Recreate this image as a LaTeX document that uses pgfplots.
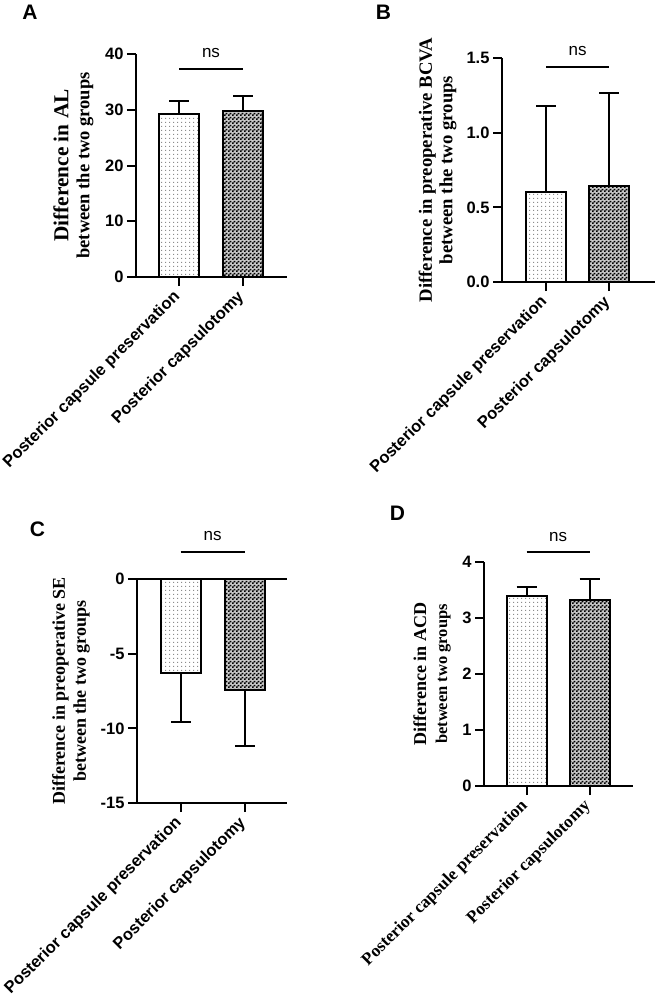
\documentclass[border=0pt]{standalone}
\usepackage{fontspec}
\usepackage{pgfplots}
\pgfplotsset{compat=1.18}
\usetikzlibrary{patterns}
\setmainfont{Liberation Sans}
\newfontfamily\arial{Liberation Sans}
\newfontfamily\tnr{Liberation Serif}

\pgfdeclarepatternformonly{gpdots}{\pgfpointorigin}{\pgfpoint{4pt}{4pt}}{\pgfpoint{4pt}{4pt}}{%
  \pgfpathrectangle{\pgfpoint{1.5pt}{1.5pt}}{\pgfpoint{1.1pt}{1.1pt}}\pgfusepath{fill}}
\pgfdeclarepatternformonly{gpchecker}{\pgfpointorigin}{\pgfpoint{4pt}{4pt}}{\pgfpoint{4pt}{4pt}}{%
  \pgfpathrectangle{\pgfpointorigin}{\pgfpoint{2pt}{2pt}}%
  \pgfpathrectangle{\pgfpoint{2pt}{2pt}}{\pgfpoint{2pt}{2pt}}\pgfusepath{fill}}

\pgfplotsset{
  gp/.style={
    scale only axis, clip=false,
    axis x line*=bottom, axis y line*=left,
    axis line style={line width=2pt, -},
    every tick/.style={line width=2pt, black},
    tick align=outside, major tick length=9pt,
    xtick={0,1},
    xticklabels={Posterior capsule preservation, Posterior capsulotomy},
    xticklabel shift=7pt,
    xticklabel style={rotate=45, anchor=east, font=\arial\bfseries\fontsize{16.5}{18}\selectfont, inner sep=2pt},
    yticklabel style={font=\arial\bfseries\fontsize{16.5}{18}\selectfont},
    /pgf/number format/assume math mode=true,
    ylabel style={at={(rel axis cs:0,0.5)}, anchor=center, align=center},
  },
  bar1/.style={ybar, bar shift=0pt, bar width=40pt, draw=black, line width=2pt,
    pattern=gpdots, pattern color=black!45,
    error bars/y explicit,
    error bars/error mark=-,
    error bars/error bar style={line width=2pt, black, solid},
    error bars/error mark options={rotate=90, line width=2pt, black, mark size=10pt}},
  bar2/.style={ybar, bar shift=0pt, bar width=40pt, draw=black, line width=2pt,
    fill=black!22, postaction={pattern=gpchecker, pattern color=black},
    error bars/y explicit,
    error bars/error mark=-,
    error bars/error bar style={line width=2pt, black, solid},
    error bars/error mark options={rotate=90, line width=2pt, black, mark size=10pt}},
}

\begin{document}
\begin{tikzpicture}
\useasboundingbox (0,0) rectangle (655pt,-1004pt);

% ---------- A ----------
\node[font=\arial\bfseries\fontsize{21}{21}\selectfont] at (30pt,-12.5pt) {A};
\begin{axis}[gp,
  at={(136pt,-277pt)}, anchor=south west,
  width=151pt, height=223pt,
  xmin=-0.672, xmax=1.6875, ymin=0, ymax=40,
  ytick={0,10,20,30,40},
  ylabel style={yshift=62.5pt, font=\tnr\bfseries\fontsize{18.5}{21}\selectfont},
  ylabel={{\fontsize{21.3}{21}\selectfont Difference in AL}\\between the two groups},
]
\addplot[bar1, error bars/y dir=plus] coordinates {(0,29.2) +- (0,2.4)};
\addplot[bar2, error bars/y dir=plus] coordinates {(1,29.8) +- (0,2.7)};
\draw[line width=2pt] (axis cs:0,37.3) -- (axis cs:1,37.3);
\node[anchor=base, font=\arial\fontsize{17}{17}\selectfont, yshift=11.5pt] at (axis cs:0.5,37.3) {ns};
\end{axis}

% ---------- B ----------
\node[font=\arial\bfseries\fontsize{21}{21}\selectfont] at (383.5pt,-12.5pt) {B};
\begin{axis}[gp,
  at={(502pt,-282pt)}, anchor=south west,
  width=153pt, height=224pt,
  xmin=-0.70, xmax=1.73, ymin=0, ymax=1.5,
  ytick={0,0.5,1,1.5},
  yticklabel style={/pgf/number format/.cd, fixed, fixed zerofill, precision=1},
  ylabel style={yshift=64.5pt, font=\tnr\bfseries\fontsize{18.7}{20.5}\selectfont},
  ylabel={Difference in preoperative BCVA\\between the two groups},
]
\addplot[bar1, error bars/y dir=plus] coordinates {(0,0.60) +- (0,0.58)};
\addplot[bar2, error bars/y dir=plus] coordinates {(1,0.645) +- (0,0.62)};
\draw[line width=2pt] (axis cs:0,1.44) -- (axis cs:1,1.44);
\node[anchor=base, font=\arial\fontsize{17}{17}\selectfont, yshift=11.5pt] at (axis cs:0.5,1.44) {ns};
\end{axis}

% ---------- C ----------
\node[font=\arial\bfseries\fontsize{21}{21}\selectfont] at (37.5pt,-529.5pt) {C};
\begin{axis}[gp,
  at={(137pt,-803pt)}, anchor=south west,
  width=150pt, height=224pt,
  xmin=-0.68, xmax=1.66, ymin=-15, ymax=0,
  ytick={-15,-10,-5,0},
  ylabel style={yshift=66pt, font=\tnr\bfseries\fontsize{18}{21}\selectfont},
  ylabel={Difference in preoperative SE\\between the two groups},
]
\addplot[bar1, error bars/y dir=minus] coordinates {(0,-6.3) +- (0,3.3)};
\addplot[bar2, error bars/y dir=minus] coordinates {(1,-7.45) +- (0,3.75)};
\draw[line width=2pt] (axis cs:-0.68,0) -- (axis cs:1.66,0);
\draw[line width=2pt] (axis cs:0,1.81) -- (axis cs:1,1.81);
\node[anchor=base, font=\arial\fontsize{17}{17}\selectfont, yshift=11.5pt] at (axis cs:0.5,1.81) {ns};
\end{axis}

% ---------- D ----------
\node[font=\arial\bfseries\fontsize{21}{21}\selectfont] at (397.5pt,-513.5pt) {D};
\begin{axis}[gp,
  at={(484pt,-786pt)}, anchor=south west,
  width=149pt, height=224pt,
  xmin=-0.675, xmax=1.69, ymin=0, ymax=4,
  ytick={0,1,2,3,4},
  xticklabel style={font=\tnr\bfseries\fontsize{17.4}{18}\selectfont},
  ylabel style={yshift=52pt, font=\tnr\bfseries\fontsize{16.5}{21}\selectfont},
  ylabel={{\fontsize{18.1}{21}\selectfont Difference in ACD}\\between two groups},
]
\addplot[bar1, error bars/y dir=plus] coordinates {(0,3.40) +- (0,0.15)};
\addplot[bar2, error bars/y dir=plus] coordinates {(1,3.32) +- (0,0.38)};
\draw[line width=2pt] (axis cs:0,4.18) -- (axis cs:1,4.18);
\node[anchor=base, font=\arial\fontsize{17}{17}\selectfont, yshift=10.5pt] at (axis cs:0.5,4.18) {ns};
\end{axis}
\end{tikzpicture}
\end{document}
